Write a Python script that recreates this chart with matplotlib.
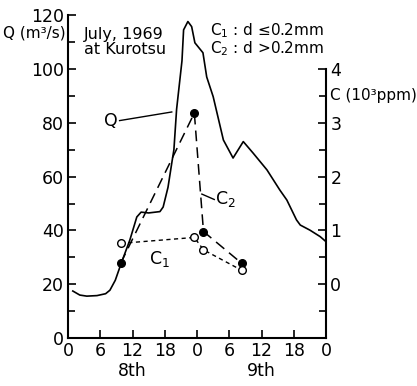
import numpy as np
import matplotlib
matplotlib.use("Agg")
import matplotlib.pyplot as plt
from matplotlib.ticker import MultipleLocator

# discharge hydrograph, hours from 0h on the 8th
t_q = [0.9, 2.2, 3.5, 5.4, 7.0, 7.8, 8.8, 9.9, 11.5, 12.8, 13.6, 15.0, 17.1, 17.7,
       18.6, 19.3, 19.7, 20.2, 21.2, 21.5, 22.3, 23.0, 23.6, 25.1, 25.8, 27.0, 28.9,
       30.7, 32.6, 34.4, 37.0, 39.4, 40.7, 42.5, 43.2, 45.0, 46.9, 48.0]
q = [17.5, 16.0, 15.6, 15.8, 16.5, 17.8, 21.5, 27.8, 36.4, 45.0, 46.8, 46.5, 47.0, 48.7,
     56.0, 65.0, 70.0, 85.0, 103.0, 114.5, 117.6, 115.7, 109.7, 106.0, 97.0, 89.7, 73.6,
     66.9, 73.0, 68.8, 62.5, 55.0, 51.3, 43.9, 42.0, 40.1, 37.7, 35.8]

# sediment concentration (10^3 ppm)
t_c = [9.8, 23.5, 25.2, 32.3]
c1 = [0.76, 0.87, 0.64, 0.26]
c2 = [0.39, 3.18, 0.98, 0.39]

xticks = np.arange(0, 49, 6)
xticklabels = ["0", "6", "12", "18", "0", "6", "12", "18", "0"]

fs = 12.5
fig = plt.figure(figsize=(4.17, 3.86), dpi=100)
ax = fig.add_axes([0.163, 0.124, 0.619, 0.837])
ax2 = ax.twinx()

ax.plot(t_q, q, color="black", lw=1.2)
ax2.plot(t_c, c2, color="black", lw=1.1, ls=(0, (7, 4)), marker="o", ms=5.5,
         mfc="black", mec="black")
ax2.plot(t_c, c1, color="black", lw=1.0, ls=(0, (3, 2.5)), marker="o", ms=5.5,
         mfc="white", mec="black", mew=1.0)

ax.set_xlim(0, 48)
ax.set_ylim(0, 120)
ax2.set_ylim(-1, 5)

for a in (ax, ax2):
    a.spines["top"].set_visible(False)
    for s in a.spines.values():
        s.set_linewidth(1.5)
ax.spines["right"].set_visible(False)
ax2.spines["left"].set_visible(False)
ax2.spines["bottom"].set_visible(False)
ax2.spines["right"].set_bounds(-1, 4)

ax.set_xticks(xticks)
ax.set_xticklabels(xticklabels)
ax.set_yticks(np.arange(0, 121, 20))
ax.yaxis.set_minor_locator(MultipleLocator(10))
ax.tick_params(axis="both", which="both", direction="in", labelsize=fs, width=1.2)
ax.tick_params(which="major", length=6)
ax.tick_params(which="minor", length=5)
ax.tick_params(axis="x", pad=3)
ax.tick_params(axis="y", pad=3)

ax2.set_yticks(np.arange(0, 5, 1))
ax2.set_yticks([-0.5, 0.5, 1.5, 2.5, 3.5], minor=True)
ax2.tick_params(axis="y", which="both", direction="in", labelsize=fs, width=1.2, pad=3)
ax2.tick_params(which="major", length=6)
ax2.tick_params(which="minor", length=5)

ax.text(12, -12.2, "8th", ha="center", va="center", fontsize=fs)
ax.text(36, -12.2, "9th", ha="center", va="center", fontsize=fs)

ax.text(-0.5, 113.5, "Q (m³/s)", ha="right", va="center", fontsize=fs - 1.5)
ax2.text(48.8, 3.5, "C (10³ppm)", ha="left", va="center", fontsize=fs - 1.5)

ax.text(2.9, 110, "July, 1969\nat Kurotsu", ha="left", va="center", fontsize=fs - 1,
        linespacing=1.05)
ax.text(47.6, 111, "C$_1$ : d ≤0.2mm\nC$_2$ : d >0.2mm", ha="right", va="center",
        fontsize=fs - 1.5, linespacing=0.95)

ax.text(9.2, 80.5, "Q", ha="right", va="center", fontsize=fs)
ax.plot([9.6, 19.3], [80.8, 84.0], color="black", lw=1.0)
ax.text(27.4, 51.5, "C$_2$", ha="left", va="center", fontsize=fs)
ax.plot([24.9, 27.2], [53.5, 51.5], color="black", lw=1.0)
ax.text(17.1, 29.5, "C$_1$", ha="center", va="center", fontsize=fs)

fig.savefig("out.png", dpi=100)
